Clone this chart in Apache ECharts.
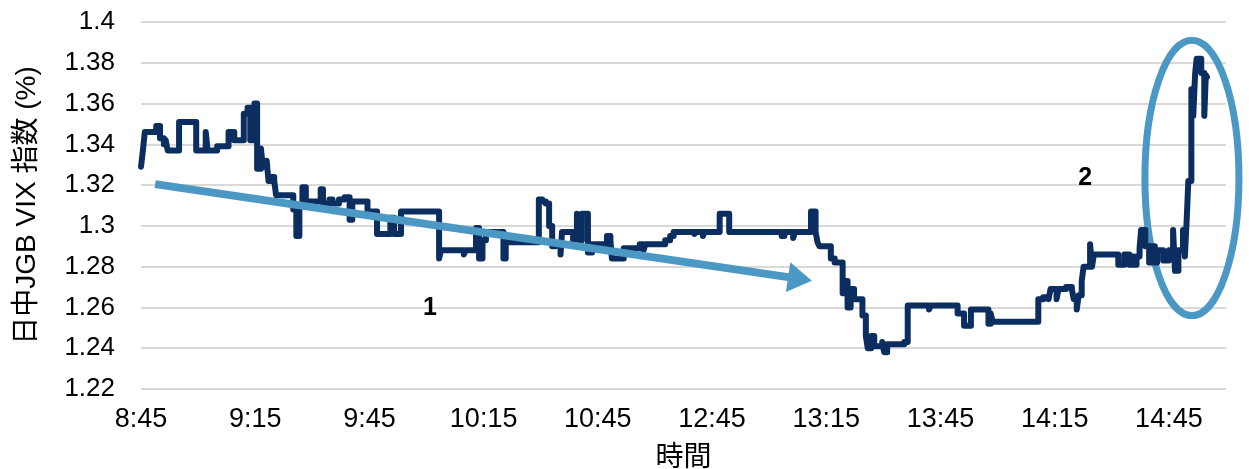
<!DOCTYPE html>
<html>
<head>
<meta charset="utf-8">
<title>日中JGB VIX 指数</title>
<script src="https://cdn.jsdelivr.net/npm/echarts@6/dist/echarts.min.js"></script>
<style>
  html, body { margin: 0; padding: 0; background: #fff; }
  #chart { width: 1249px; height: 469px; }
</style>
</head>
<body>
<div id="chart"></div>
<script>
// x = trading minutes since 8:45, lunch break (11:00-12:30) removed
const timeLabels = ["8:45", "9:15", "9:45", "10:15", "10:45", "12:45", "13:15", "13:45", "14:15", "14:45"];
const labelStep = 30;

// [minute, VIX %] at each change, drawn as a step line
const morningData = [
  [0, 1.329], [0.5, 1.337], [1, 1.346], [4, 1.349], [5, 1.343], [6, 1.340], [6.5, 1.342], [7, 1.337],
  [10, 1.351], [14.5, 1.337], [17, 1.346], [17.5, 1.337], [20, 1.339], [23, 1.346], [24.5, 1.342],
  [27, 1.355], [28, 1.358], [28.7, 1.342], [29.8, 1.360], [30.5, 1.328], [31.5, 1.338], [32, 1.329],
  [33, 1.332], [33.5, 1.322], [34.2, 1.324], [35, 1.322], [35.5, 1.315], [40, 1.308], [40.8, 1.295],
  [41.6, 1.310], [42.4, 1.319], [43.3, 1.312], [47.2, 1.318], [47.8, 1.311], [49.5, 1.313], [50.3, 1.311],
  [52, 1.313], [53.5, 1.314], [54.8, 1.303], [55.5, 1.312], [59.5, 1.307], [62, 1.296], [65.5, 1.304],
  [66.5, 1.296], [68.3, 1.307], [78.3, 1.284], [78.8, 1.288], [84.8, 1.286], [85.3, 1.288], [88, 1.299],
  [88.8, 1.284], [89.7, 1.293], [90.6, 1.297], [95.2, 1.284], [95.8, 1.292], [104.5, 1.313], [105.4, 1.312],
  [106.3, 1.311], [107.2, 1.300], [108, 1.290], [108.9, 1.291], [110.2, 1.286], [110.6, 1.297], [113.5, 1.293],
  [114.5, 1.306], [115, 1.293], [115.8, 1.306], [117.4, 1.287], [118.5, 1.291], [121.6, 1.288], [122.4, 1.295],
  [123.3, 1.293], [123.7, 1.284], [126.8, 1.289], [131, 1.291], [132, 1.288], [132.5, 1.291]
];
const afternoonData = [
  [137.7, 1.293], [139, 1.295], [139.9, 1.297], [145.4, 1.296], [145.8, 1.297], [147.6, 1.295], [148, 1.297],
  [152, 1.306], [154.5, 1.297], [168.3, 1.295], [169, 1.297], [171.3, 1.294], [171.8, 1.297], [176, 1.307],
  [177.2, 1.297], [177.7, 1.292], [178.2, 1.290], [181.2, 1.284], [182.2, 1.282], [184.3, 1.267], [185, 1.273],
  [185.6, 1.260], [186.4, 1.269], [187.3, 1.264], [189.5, 1.256], [190.4, 1.246], [190.9, 1.240], [191.8, 1.246],
  [192.6, 1.241], [194.7, 1.243], [195.2, 1.238], [196, 1.242], [200.5, 1.243], [201.4, 1.261], [207, 1.259],
  [207.5, 1.261], [214.5, 1.257], [216.2, 1.251], [218, 1.259], [222.6, 1.252], [223.2, 1.257], [223.7, 1.253],
  [235.7, 1.264], [237, 1.265], [238.4, 1.264], [238.9, 1.269], [240.5, 1.264], [241, 1.269], [243, 1.270],
  [244.5, 1.269], [245, 1.264], [245.8, 1.259], [246.3, 1.266], [247.1, 1.273], [247.6, 1.280], [249.3, 1.291],
  [249.8, 1.280], [250.3, 1.286], [256.7, 1.281], [258.3, 1.286], [259.6, 1.281], [260.2, 1.285], [260.8, 1.281],
  [261.5, 1.285], [262.3, 1.289], [262.7, 1.298], [263.8, 1.290], [264.8, 1.282], [265.5, 1.290], [266.3, 1.282],
  [266.9, 1.288], [268.5, 1.283], [270, 1.288], [271.1, 1.298], [271.6, 1.278], [272.5, 1.288], [273.7, 1.298],
  [274.2, 1.285], [274.7, 1.304], [275.1, 1.322], [275.9, 1.367], [276.4, 1.354], [276.9, 1.375], [277.3, 1.382],
  [278.5, 1.375], [279.3, 1.354], [279.7, 1.374], [280, 1.373]
];
const vixData = morningData.concat(afternoonData);

// annotations, in data units
const arrowFrom = [3.7, 1.3205];
const arrowTo = [173.1, 1.274];
const ellipseBox = [[263.7, 1.391], [288.4, 1.256]];
const notes = [
  { text: "1", at: [75.9, 1.2598] },
  { text: "2", at: [248, 1.3235] }
];

const FONT = '"Liberation Sans", Arial, "Noto Sans CJK JP", sans-serif';
const NAVY = "#0B2D5F";
const LIGHT = "#4C98C4";

const chart = echarts.init(document.getElementById("chart"));

const option = {
  animation: false,
  textStyle: { fontFamily: FONT },
  grid: { left: 141, right: 23, top: 22, bottom: 80, outerBoundsMode: "none", containLabel: false },
  xAxis: {
    type: "value",
    min: 0,
    max: 285,
    interval: labelStep,
    name: "時間",
    nameLocation: "middle",
    nameGap: 55,
    nameTextStyle: { fontSize: 28, color: "#000", fontFamily: FONT },
    axisLine: { show: false },
    axisTick: { show: false },
    splitLine: { show: false },
    axisLabel: {
      fontSize: 27,
      color: "#000",
      margin: 17,
      fontFamily: FONT,
      formatter: (v) => (v % labelStep === 0 ? timeLabels[v / labelStep] || "" : "")
    }
  },
  yAxis: {
    type: "value",
    min: 1.22,
    max: 1.4,
    interval: 0.02,
    name: "日中JGB VIX 指数 (%)",
    nameLocation: "middle",
    nameRotate: 90,
    nameGap: 100,
    nameTextStyle: { fontSize: 28, color: "#000", fontFamily: FONT },
    axisLine: { show: false },
    axisTick: { show: false },
    splitLine: { lineStyle: { color: "#D9D9D9", width: 2 } },
    axisLabel: { fontSize: 26, color: "#000", margin: 26, fontFamily: FONT }
  },
  series: [
    {
      type: "line",
      step: "end",
      data: vixData,
      symbol: "none",
      lineStyle: { color: NAVY, width: 6, cap: "round", join: "round" },
      markLine: {
        silent: true,
        symbol: ["none", "triangle"],
        label: { show: false },
        lineStyle: { color: LIGHT, width: 8, type: "solid" },
        data: [[
          { coord: arrowFrom, symbol: "none" },
          { coord: arrowTo, symbol: "triangle", symbolSize: [30, 24] }
        ]]
      }
    }
  ]
};

chart.setOption(option);

// ellipse and the 1 / 2 notes are placed from data units
const tl = chart.convertToPixel({ gridIndex: 0 }, ellipseBox[0]);
const br = chart.convertToPixel({ gridIndex: 0 }, ellipseBox[1]);
const graphics = [
  {
    type: "ellipse",
    silent: true,
    shape: {
      cx: (tl[0] + br[0]) / 2,
      cy: (tl[1] + br[1]) / 2,
      rx: (br[0] - tl[0]) / 2,
      ry: (br[1] - tl[1]) / 2
    },
    style: { fill: null, stroke: LIGHT, lineWidth: 7 }
  }
];
notes.forEach((n) => {
  const p = chart.convertToPixel({ gridIndex: 0 }, n.at);
  graphics.push({
    type: "text",
    silent: true,
    x: p[0],
    y: p[1],
    style: {
      text: n.text,
      fill: "#000",
      font: 'bold 25px "Liberation Sans", Arial, sans-serif',
      textAlign: "center",
      textVerticalAlign: "middle"
    }
  });
});
chart.setOption({ graphic: graphics });

window.addEventListener("resize", () => chart.resize());
</script>
</body>
</html>
